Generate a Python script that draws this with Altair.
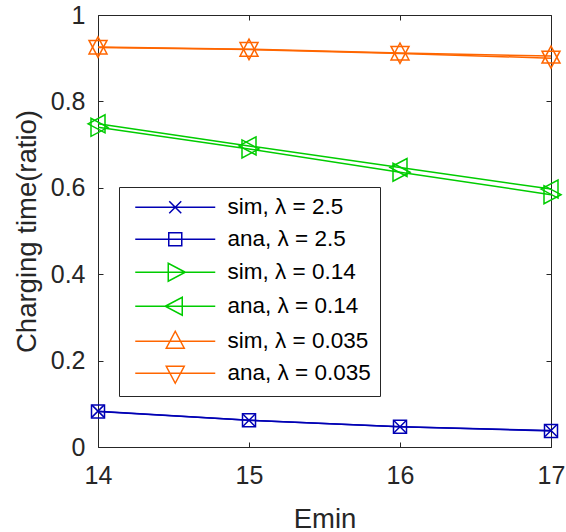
import altair as alt
import pandas as pd

emin = [14, 15, 16, 17]
series_names = ["sim, λ = 2.5", "ana, λ = 2.5", "sim, λ = 0.14",
                "ana, λ = 0.14", "sim, λ = 0.035", "ana, λ = 0.035"]
sim_25 = [0.083, 0.062, 0.047, 0.038]
ana_25 = [0.082, 0.062, 0.047, 0.037]
sim_014 = [0.740, 0.690, 0.636, 0.584]
ana_014 = [0.748, 0.697, 0.647, 0.597]
sim_0035 = [0.926, 0.921, 0.912, 0.905]
ana_0035 = [0.925, 0.920, 0.911, 0.900]
series_values = [sim_25, ana_25, sim_014, ana_014, sim_0035, ana_0035]

colors = ["#0000B4", "#0000B4", "#00CC00", "#00CC00", "#FF6600", "#FF6600"]
marker_paths = [
    "M-0.6,-0.6L0.6,0.6M-0.6,0.6L0.6,-0.6",
    "M-0.65,-0.65L0.65,-0.65L0.65,0.65L-0.65,0.65Z",
    "M1,0L-0.7,-0.9L-0.7,0.9Z",
    "M-1,0L0.7,-0.9L0.7,0.9Z",
    "M0,-1L0.9,0.7L-0.9,0.7Z",
    "M0,1L0.9,-0.7L-0.9,-0.7Z",
]
legend_paths = ["M-4,0L4,0" + p for p in marker_paths]

rows = []
for name, vals in zip(series_names, series_values):
    for e, v in zip(emin, vals):
        rows.append({"emin": e, "value": v, "series": name})
df = pd.DataFrame(rows)

FONT = "Liberation Sans"
TICK = "#262626"
W, H = 453, 432

xscale = alt.Scale(domain=[14, 17], nice=False, zero=False)
yscale = alt.Scale(domain=[0, 1], nice=False)
xvals = [14, 15, 16, 17]
yvals = [0, 0.2, 0.4, 0.6, 0.8, 1]


def tick_axis(orient, offset, vals):
    return alt.Axis(orient=orient, offset=offset, values=vals, labels=False,
                    ticks=True, tickSize=5, tickColor=TICK, tickWidth=1,
                    domain=False, grid=False, title=None)


color_scale = alt.Scale(domain=series_names, range=colors)
base = alt.Chart(df)

lines = base.mark_line(strokeWidth=1.5).encode(
    x=alt.X("emin:Q", scale=xscale, axis=alt.Axis(
        orient="bottom", values=xvals, format="d", ticks=False, tickSize=0,
        domain=False, grid=False, labelFont=FONT, labelFontSize=25,
        labelColor=TICK, labelPadding=16, labelFlush=False, title="Emin",
        titleFont=FONT, titleFontSize=27.5, titleFontWeight="normal",
        titleColor=TICK, titleBaseline="alphabetic", titleY=80)),
    y=alt.Y("value:Q", scale=yscale, axis=alt.Axis(
        orient="left", values=yvals, format="~g", ticks=False, tickSize=0,
        domain=False, grid=False, labelFont=FONT, labelFontSize=25,
        labelColor=TICK, labelPadding=13, labelFlush=False,
        title="Charging time(ratio)", titleFont=FONT, titleFontSize=27.5,
        titleFontWeight="normal", titleColor=TICK,
        titleBaseline="alphabetic", titleX=-63, titleAngle=270)),
    color=alt.Color("series:N", scale=color_scale, legend=None),
)

points = base.mark_point(filled=False, size=400, strokeWidth=1.5, opacity=1).encode(
    x=alt.X("emin:Q", scale=xscale, axis=tick_axis("top", -H, xvals)),
    y=alt.Y("value:Q", scale=yscale, axis=tick_axis("right", -W, yvals)),
    color=alt.Color("series:N", scale=color_scale, legend=None),
    shape=alt.Shape("series:N", scale=alt.Scale(domain=series_names, range=marker_paths),
                    legend=None),
)

leg = alt.Legend(title=None, orient="none", legendX=21, legendY=172,
                 strokeColor=TICK, fillColor="white", padding=9,
                 rowPadding=9, labelFont=FONT, labelFontSize=22.5,
                 labelColor="black", labelLimit=300, symbolSize=400,
                 symbolStrokeWidth=1.5, symbolOffset=36, labelOffset=41,
                 symbolOpacity=1)

legend_layer = base.mark_point(filled=False, size=400, strokeWidth=1.5, opacity=0).encode(
    x=alt.X("emin:Q", scale=xscale, axis=tick_axis("bottom", -H, xvals)),
    y=alt.Y("value:Q", scale=yscale, axis=tick_axis("left", -W, yvals)),
    color=alt.Color("series:N", scale=color_scale, legend=leg),
    shape=alt.Shape("series:N", scale=alt.Scale(domain=series_names, range=legend_paths),
                    legend=leg),
)

chart = alt.layer(lines, points, legend_layer).resolve_scale(
    color="independent", shape="independent"
).resolve_axis(x="independent", y="independent").properties(
    width=W, height=H,
    padding={"left": 98, "top": 15, "right": 15, "bottom": 85},
    autosize=alt.AutoSizeParams(type="none"),
).configure_view(stroke=TICK, strokeWidth=1)

chart.save("out.html", embed_options={"renderer": "svg", "actions": False})
